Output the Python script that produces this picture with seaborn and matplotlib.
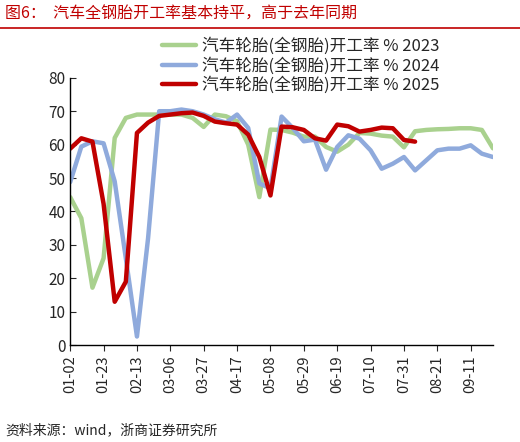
import matplotlib
matplotlib.use('Agg')
import matplotlib.pyplot as plt
import seaborn as sns
import pandas as pd

sns.set_style('white')
plt.rcParams['font.family'] = ['Noto Sans CJK SC', 'DejaVu Sans']

tick_labels = ['01-02', '01-23', '02-13', '03-06', '03-27', '04-17', '05-08',
               '05-29', '06-19', '07-10', '07-31', '08-21', '09-11']

y2023 = [44.3, 38, 17.2, 26, 62, 68, 69, 69, 69, 69, 69, 68, 65.3, 69, 68.5, 67, 60, 44.3,
         64.5, 64.4, 63.6, 62.4, 62.4, 59.3, 57.9, 60, 63.5, 63.3, 62.7, 62.4, 59.2, 64,
         64.4, 64.6, 64.7, 64.9, 64.9, 64.4, 58.9]
y2024 = [48.8, 59.4, 61, 60.4, 49, 26, 2.6, 32, 70, 70, 70.5, 70, 69, 67.6, 66.6, 69, 65,
         48.4, 46.9, 68.4, 65, 61, 61.5, 52.5, 59.3, 62.8, 61.8, 58.3, 52.8, 54.3, 56.3,
         52.3, 55.3, 58.3, 58.8, 58.8, 59.8, 57.3, 56.3]
y2025 = [58.8, 61.9, 60.9, 42.3, 13, 19, 63.5, 66.6, 68.6, 69, 69.4, 69.6, 68.6, 66.9,
         66.4, 66, 63, 56.3, 44.8, 65.4, 65.2, 64.4, 61.9, 61.2, 66, 65.5, 63.9, 64.4,
         65.1, 64.9, 61.4, 60.9]

rows = []
for name, vals in [('汽车轮胎(全钢胎)开工率 % 2023', y2023),
                   ('汽车轮胎(全钢胎)开工率 % 2024', y2024),
                   ('汽车轮胎(全钢胎)开工率 % 2025', y2025)]:
    for w, v in enumerate(vals):
        rows.append({'week': w, 'value': v, 'series': name})
df = pd.DataFrame(rows)

fig = plt.figure(figsize=(5.2, 4.42), dpi=100)
ax = fig.add_axes([0.135, 0.219, 0.813, 0.605])
palette = ['#A9D18E', '#8FAADC', '#C00000']
sns.lineplot(data=df, x='week', y='value', hue='series', palette=palette,
             linewidth=3.2, ax=ax)

ax.set_xlim(0, 38)
ax.set_ylim(0, 80)
ax.set_yticks(range(0, 81, 10))
ax.set_xticks(range(0, 37, 3))
ax.set_xticklabels(tick_labels, rotation=90, fontsize=10.5)
ax.tick_params(axis='y', labelsize=11, direction='in', length=4, left=True)
ax.tick_params(axis='x', direction='out', length=4, bottom=True)
ax.set_xlabel('')
ax.set_ylabel('')
sns.despine(ax=ax)
for s in ['left', 'bottom']:
    ax.spines[s].set_color('black')
    ax.spines[s].set_linewidth(1)

leg = ax.legend(loc='upper right', bbox_to_anchor=(0.89, 1.175), frameon=False,
                fontsize=12, handlelength=2.0, handletextpad=0.4,
                labelspacing=0.1, borderaxespad=0)

fig.text(0.01, 0.968, '图6：  汽车全钢胎开工率基本持平，高于去年同期', color='#C00000',
         fontsize=11.5, va='center')
fig.add_artist(plt.Line2D([0.0, 1.0], [0.937, 0.937], color='#C00000', linewidth=1.2))
fig.text(0.01, 0.027, '资料来源：wind，浙商证券研究所', fontsize=10, va='center')

fig.savefig('out.png', dpi=100)
